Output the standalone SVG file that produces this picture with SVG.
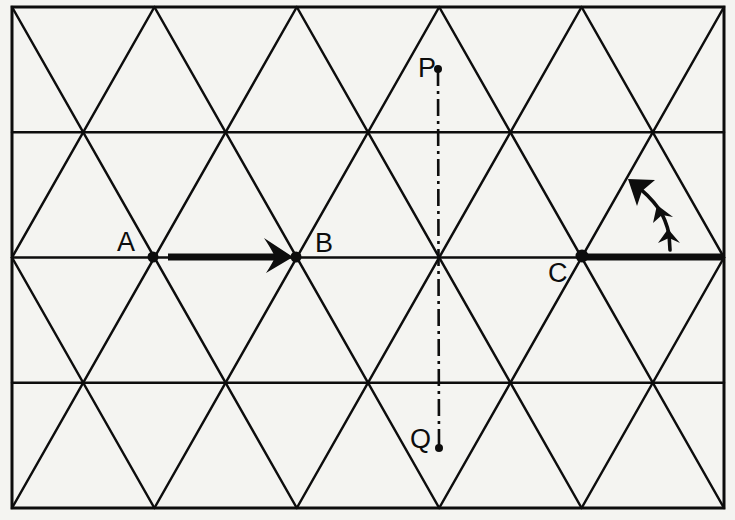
<svg xmlns="http://www.w3.org/2000/svg" width="735" height="520" viewBox="0 0 735 520">
<style>
.bg{fill:#f4f4f1}
.grid{stroke:#0d0d0d;stroke-width:2.5;fill:none;stroke-linecap:round}
.border{stroke:#0d0d0d;stroke-width:3;fill:none}
.dot{fill:#0d0d0d}
.lbl{font-family:"Liberation Sans",Arial,sans-serif;font-size:27px;fill:#0d0d0d}
.thick{stroke:#0d0d0d;stroke-width:7;fill:none}
.dashdot{stroke:#0d0d0d;stroke-width:2.6;fill:none;stroke-dasharray:17 5 3 5}
.small{stroke:#0d0d0d;stroke-width:3.6;fill:none;stroke-linecap:round}
.head{fill:#0d0d0d}
</style>
<rect class="bg" x="0" y="0" width="735" height="520"/>
<g id="grid">
<rect class="border" x="12" y="7" width="712" height="501"/>
<path class="grid" d="M12 132.25H724M12 257.5H724M12 382.75H724"/>
<path class="grid" d="M12 7L296.8 508M154.4 7L439.2 508M296.8 7L581.6 508M439.2 7L724 508M581.6 7L724 257.5M12 257.5L154.4 508"/>
<path class="grid" d="M154.4 7L12 257.5M296.8 7L12 508M439.2 7L154.4 508M581.6 7L296.8 508M724 7L439.2 508M724 257.5L581.6 508"/>
</g>
<g id="connectors">
<g id="arrow-AB">
<line class="thick" x1="168" y1="257" x2="276" y2="257"/>
<path class="head" d="M293 257L264 238Q272 250 275 257Q272 264 266 273Z"/>
</g>
<line id="line-PQ" class="dashdot" x1="438" y1="69" x2="439" y2="448"/>
<line id="line-C" class="thick" x1="582" y1="257" x2="724" y2="257"/>
<g id="small-arrows">
<path class="small" d="M670 250L669 234Q666 220 659 209Q648 194 636 186"/>
<path class="head" d="M668 229L658 243L669 238L680 243Z"/>
<path class="head" d="M657 205L653 223L662 215L673 217Z"/>
<path class="head" d="M628 179L637 206L642 191L655 180Z"/>
</g>
</g>
<g id="node-A"><circle class="dot" cx="153" cy="257" r="5.5"/><text class="lbl" x="117" y="251">A</text></g>
<g id="node-B"><circle class="dot" cx="296" cy="257" r="5.5"/><text class="lbl" x="315" y="252">B</text></g>
<g id="node-C"><circle class="dot" cx="582" cy="256" r="6.5"/><text class="lbl" x="548" y="282">C</text></g>
<g id="node-P"><circle class="dot" cx="438" cy="69" r="4"/><text class="lbl" x="418" y="77">P</text></g>
<g id="node-Q"><circle class="dot" cx="439" cy="448" r="4"/><text class="lbl" x="410" y="448">Q</text></g>
</svg>
